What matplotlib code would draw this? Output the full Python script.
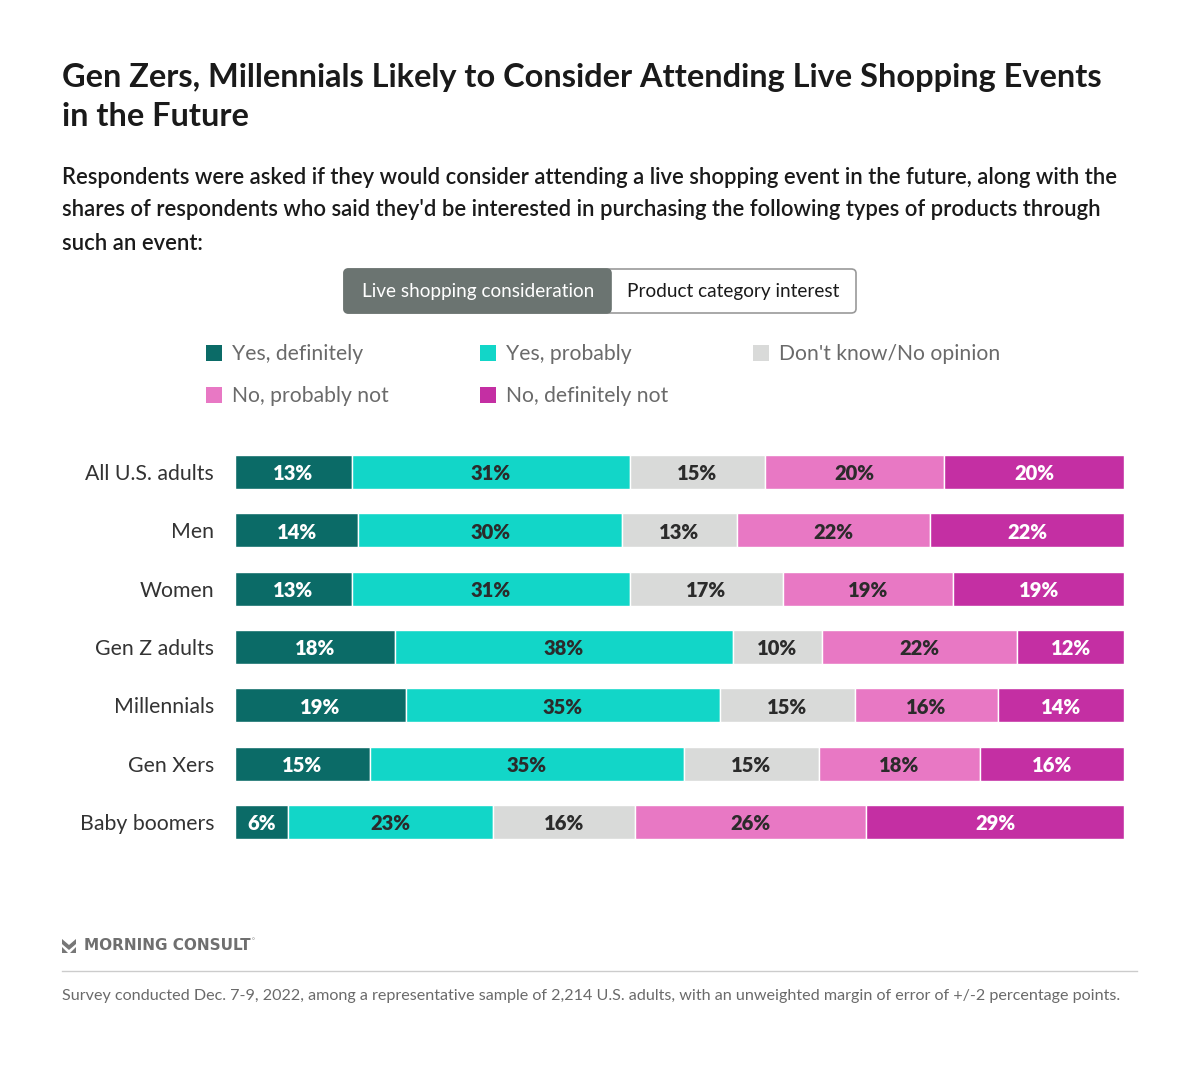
import matplotlib.pyplot as plt
import numpy as np
from matplotlib.patches import FancyBboxPatch, Rectangle, Polygon
from matplotlib.lines import Line2D

plt.rcParams['font.family'] = ['Lato', 'DejaVu Sans']

groups = ['All U.S. adults', 'Men', 'Women', 'Gen Z adults', 'Millennials', 'Gen Xers', 'Baby boomers']
answers = ['Yes, definitely', 'Yes, probably', "Don't know/No opinion",
           'No, probably not', 'No, definitely not']
yes_def = [13, 14, 13, 18, 19, 15, 6]
yes_prob = [31, 30, 31, 38, 35, 35, 23]
dont_know = [15, 13, 17, 10, 15, 15, 16]
no_prob = [20, 22, 19, 22, 16, 18, 26]
no_def = [20, 22, 19, 12, 14, 16, 29]

colors = ['#0b6b67', '#12d6c8', '#d9dad9', '#e878c4', '#c42fa3']
label_colors = ['white', '#2b2b2b', '#2b2b2b', '#2b2b2b', 'white']

W, H = 1200, 1069
fig = plt.figure(figsize=(W / 100, H / 100), dpi=100)

def fx(px):
    return px / W

def fy(py):
    return 1 - py / H

# title and subtitle
fig.text(fx(62), fy(77), 'Gen Zers, Millennials Likely to Consider Attending Live Shopping Events',
         fontsize=23.4, fontweight='bold', color='#1a1a1a', va='center')
fig.text(fx(62), fy(117), 'in the Future', fontsize=23.4, fontweight='bold', color='#1a1a1a', va='center')
sub = ["Respondents were asked if they would consider attending a live shopping event in the future, along with the",
       "shares of respondents who said they'd be interested in purchasing the following types of products through",
       "such an event:"]
for i, s in enumerate(sub):
    fig.text(fx(62), fy(177 + 33 * i), s, fontsize=15.8, fontweight='semibold', color='#1a1a1a', va='center')

# toggle buttons
btn = FancyBboxPatch((fx(344), fy(313)), fx(856) - fx(344), fy(269) - fy(313),
                     boxstyle='round,pad=0,rounding_size=0.004', transform=fig.transFigure,
                     facecolor='white', edgecolor='#9a9a9a', linewidth=1.2)
fig.patches.append(btn)
btn2 = FancyBboxPatch((fx(344), fy(313)), fx(611) - fx(344), fy(269) - fy(313),
                      boxstyle='round,pad=0,rounding_size=0.004', transform=fig.transFigure,
                      facecolor='#6b7471', edgecolor='#6b7471', linewidth=1.2)
fig.patches.append(btn2)
fig.patches.append(Rectangle((fx(590), fy(312)), fx(611) - fx(590), fy(270) - fy(312),
                             transform=fig.transFigure, facecolor='#6b7471', edgecolor='none'))
fig.text(fx(478), fy(292), 'Live shopping consideration', fontsize=13.7, color='white', ha='center', va='center')
fig.text(fx(733), fy(292), 'Product category interest', fontsize=13.7, color='#1a1a1a', ha='center', va='center')

# legend
leg_pos = [(206, 353), (480, 353), (753, 353), (206, 395), (480, 395)]
for (lx, ly), name, c in zip(leg_pos, answers, colors):
    fig.patches.append(Rectangle((fx(lx), fy(ly + 8)), fx(16), 16 / H, transform=fig.transFigure,
                                 facecolor=c, edgecolor='none'))
    fig.text(fx(lx + 26), fy(ly + 1), name, fontsize=15.2, color='#6a6a6a', va='center')

# bars
ax = fig.add_axes([fx(235), fy(851.2), fx(1124) - fx(235), 408.3 / H])
data = np.array([yes_def, yes_prob, dont_know, no_prob, no_def], dtype=float)
shares = data / data.sum(axis=0) * 100
y = np.arange(len(groups))
left = np.zeros(len(groups))
for k in range(len(answers)):
    ax.barh(y, shares[k], left=left, height=0.58, color=colors[k], edgecolor='white', linewidth=1)
    for i in range(len(groups)):
        ax.text(left[i] + shares[k][i] / 2, y[i] + 0.03, f'{int(data[k][i])}%', ha='center',
                va='center', fontsize=14.5, fontweight='heavy', color=label_colors[k])
    left += shares[k]
ax.set_xlim(0, 100)
ax.set_ylim(len(groups) - 0.5, -0.5)
ax.set_yticks(y)
ax.set_yticklabels(groups, fontsize=15.3, color='#333333')
ax.tick_params(axis='y', length=0, pad=15)
ax.set_xticks([])
for sp in ax.spines.values():
    sp.set_visible(False)

# logo
top = Polygon([(fx(62), fy(939)), (fx(69), fy(945)), (fx(76), fy(939)), (fx(76), fy(944)),
               (fx(69), fy(950)), (fx(62), fy(944))], closed=True, transform=fig.transFigure,
              facecolor='#777777', edgecolor='none')
fig.patches.append(top)
for pts in ([(62, 947), (62, 953), (68, 953)], [(76, 947), (76, 953), (70, 953)]):
    fig.patches.append(Polygon([(fx(a), fy(b)) for a, b in pts], closed=True,
                               transform=fig.transFigure, facecolor='#777777', edgecolor='none'))
fig.text(fx(84), fy(946), 'MORNING CONSULT', fontsize=11, fontweight='bold', color='#6f6f6f',
         va='center', family='DejaVu Sans')
fig.text(fx(252), fy(941), '°', fontsize=5, color='#888888', va='center')

fig.lines.append(Line2D([fx(62), fx(1137)], [fy(971), fy(971)], transform=fig.transFigure,
                        color='#cccccc', linewidth=1))
fig.text(fx(62), fy(996), 'Survey conducted Dec. 7-9, 2022, among a representative sample of 2,214 U.S. adults, '
         'with an unweighted margin of error of +/-2 percentage points.', fontsize=11.6, color='#6a6a6a',
         va='center')

fig.savefig('out.png', dpi=100, facecolor='white')
